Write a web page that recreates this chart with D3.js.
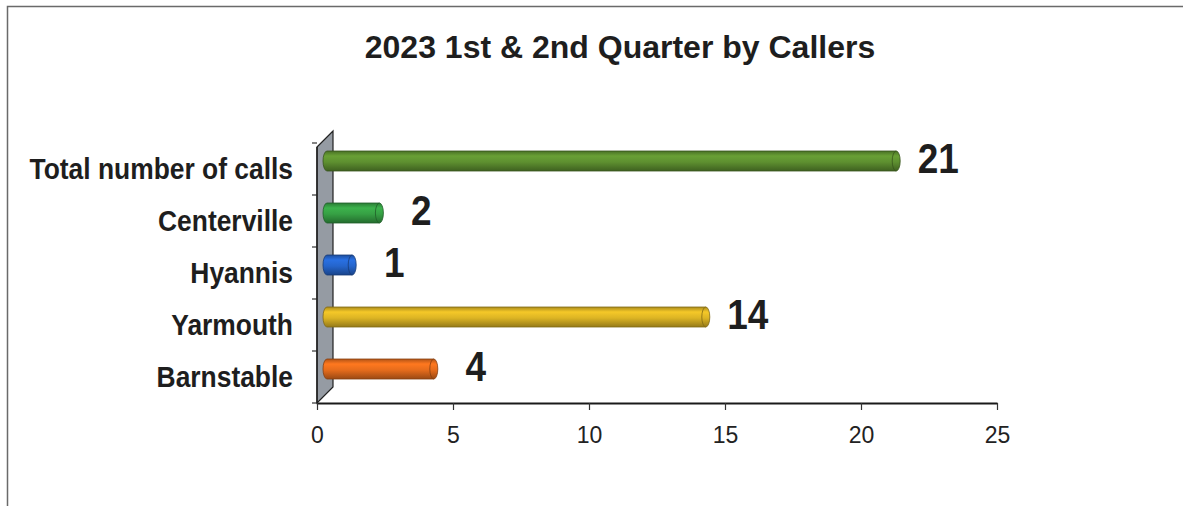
<!DOCTYPE html>
<html>
<head>
<meta charset="utf-8">
<script src="https://cdn.jsdelivr.net/npm/d3@7"></script>
<style>
  body { margin: 0; background: #fff; }
  text { font-family: "Liberation Sans", Arial, sans-serif; }
</style>
</head>
<body>
<script>
var categories = ["Total number of calls", "Centerville", "Hyannis", "Yarmouth", "Barnstable"];
var values = [21, 2, 1, 14, 4];
var barColors = ["#5e9030", "#36a044", "#2565cc", "#dcb424", "#e66c1c"];
var xTicks = [0, 5, 10, 15, 20, 25];
var title = "2023 1st & 2nd Quarter by Callers";

var w = 1183;
var h = 506;
var depth = 16;   // 3d wall depth
var barThick = 20;
var capR = 4;

var svg = d3.select("body")
  .append("svg")
  .attr("width", w)
  .attr("height", h);

/* ===== FRAME ===== */
svg.append("rect")
  .attr("x", 7.5).attr("y", 6.5)
  .attr("width", 1300).attr("height", 700)
  .attr("fill", "none")
  .attr("stroke", "#6a6a6a")
  .attr("stroke-width", 1.5);

svg.append("text")
  .attr("x", 620).attr("y", 58)
  .attr("text-anchor", "middle")
  .attr("font-size", "32px")
  .attr("font-weight", "bold")
  .attr("fill", "#1e1e1e")
  .text(title);

var xScale = d3.scaleLinear()
  .domain([0, 25])
  .range([317, 997]);

var yScale = d3.scaleBand()
  .domain(categories)
  .range([143, 403]);

var x0 = xScale(0);
var yTop = yScale.range()[0];
var yBot = yScale.range()[1];

/* ===== WALL ===== */
svg.append("path")
  .attr("d", "M" + x0 + "," + (yTop + 4) +
    " L" + (x0 + depth) + "," + (yTop + 4 - depth) +
    " L" + (x0 + depth) + "," + (yBot - depth) +
    " L" + x0 + "," + yBot + " Z")
  .attr("fill", "#959ba3")
  .attr("stroke", "#222")
  .attr("stroke-width", 1.2);

// y ticks
var yTickPos = categories.map(function (c) { return yScale(c); }).concat([yBot]);
svg.selectAll("line.ytick")
  .data(yTickPos)
  .enter()
  .append("line")
  .attr("class", "ytick")
  .attr("x1", x0 - 5).attr("x2", x0)
  .attr("y1", function (d) { return d; })
  .attr("y2", function (d) { return d; })
  .attr("stroke", "#333")
  .attr("stroke-width", 1.2);

svg.append("line")
  .attr("x1", x0).attr("x2", x0)
  .attr("y1", yTop + 4).attr("y2", yBot)
  .attr("stroke", "#222")
  .attr("stroke-width", 1.5);

/* ===== X AXIS ===== */
var xAxis = d3.axisBottom(xScale)
  .tickValues(xTicks)
  .tickSize(7)
  .tickSizeOuter(0)
  .tickPadding(17);

var gx = svg.append("g")
  .attr("transform", "translate(0," + yBot + ")")
  .call(xAxis);
gx.attr("font-size", 23).attr("font-family", "Liberation Sans, Arial, sans-serif");
gx.select(".domain").attr("stroke", "#1a1a1a").attr("stroke-width", 2);
gx.selectAll(".tick line").attr("stroke", "#333").attr("stroke-width", 1.2);
gx.selectAll("text").attr("fill", "#222");

/* ===== GRADIENTS ===== */
var defs = svg.append("defs");
barColors.forEach(function (col, i) {
  var c = d3.color(col);
  var g = defs.append("linearGradient")
    .attr("id", "cyl" + i)
    .attr("x1", 0).attr("y1", 0).attr("x2", 0).attr("y2", 1);
  g.append("stop").attr("offset", "0%").attr("stop-color", c.darker(0.7));
  g.append("stop").attr("offset", "25%").attr("stop-color", c.brighter(0.3));
  g.append("stop").attr("offset", "55%").attr("stop-color", c);
  g.append("stop").attr("offset", "100%").attr("stop-color", c.darker(1.1));
});

/* ===== BARS ===== */
var group = svg.selectAll("g.bar")
  .data(categories)
  .enter()
  .append("g")
  .attr("class", "bar");

function barY(d) { return yScale(d) + yScale.bandwidth() / 2 - depth / 2; }
function barEnd(i) { return xScale(values[i]) + depth / 2; }

// cylinder body: rounded left end, straight into the end cap
group.append("path")
  .attr("d", function (d, i) {
    var xs = x0 + depth / 2 + 2;
    var xe = barEnd(i);
    var yt = barY(d) - barThick / 2;
    var yb = barY(d) + barThick / 2;
    return "M" + xe + "," + yt +
      " L" + xs + "," + yt +
      " A" + capR + "," + (barThick / 2) + " 0 0 0 " + xs + "," + yb +
      " L" + xe + "," + yb + " Z";
  })
  .attr("fill", function (d, i) { return "url(#cyl" + i + ")"; })
  .attr("stroke", function (d, i) { return d3.color(barColors[i]).darker(1.5); })
  .attr("stroke-width", 0.8);

group.append("ellipse")
  .attr("cx", function (d, i) { return barEnd(i); })
  .attr("cy", barY)
  .attr("rx", capR)
  .attr("ry", barThick / 2)
  .attr("fill", function (d, i) { return "url(#cyl" + i + ")"; })
  .attr("stroke", function (d, i) { return d3.color(barColors[i]).darker(1.5); })
  .attr("stroke-width", 0.8);

/* ===== VALUE LABELS ===== */
group.append("text")
  .attr("transform", function (d, i) {
    return "translate(" + (xScale(values[i]) + 50) + "," + (yScale(d) + yScale.bandwidth() / 2 + 4) + ") scale(0.88,1)";
  })
  .attr("text-anchor", "middle")
  .attr("font-size", "42px")
  .attr("font-weight", "bold")
  .attr("fill", "#1e1e1e")
  .text(function (d, i) { return values[i]; });

/* ===== CATEGORY LABELS ===== */
group.append("text")
  .attr("transform", function (d) {
    return "translate(293," + (yScale(d) + yScale.bandwidth() / 2 + 10) + ") scale(0.88,1)";
  })
  .attr("text-anchor", "end")
  .attr("font-size", "30px")
  .attr("font-weight", "bold")
  .attr("fill", "#1e1e1e")
  .text(function (d) { return d; });
</script>
</body>
</html>
